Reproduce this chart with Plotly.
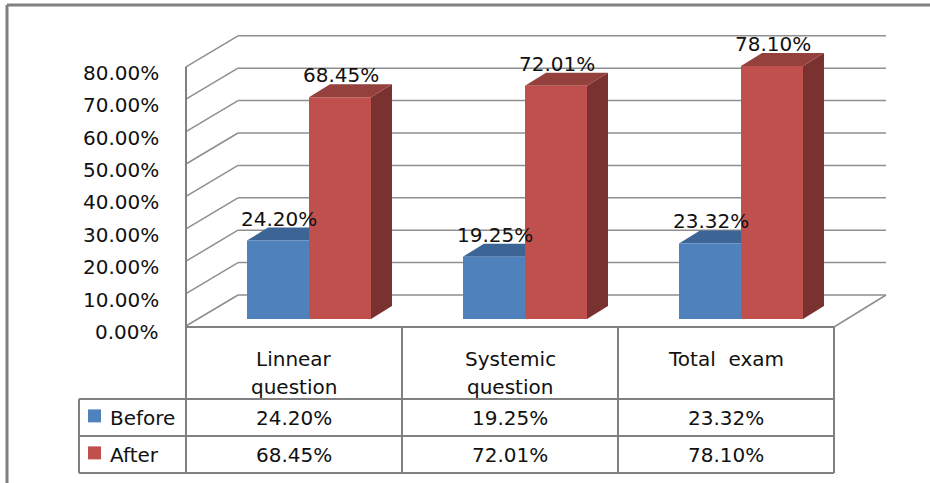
import plotly.graph_objects as go

# ---- data ----
categories = ["Linnear<br>question", "Systemic<br>question", "Total\u00a0 exam"]
series_names = ["Before", "After"]
before = [24.20, 19.25, 23.32]
after = [68.45, 72.01, 78.10]
y_ticks = [0, 10, 20, 30, 40, 50, 60, 70, 80]

# ---- styling ----
W, H = 930, 483
FONT = "DejaVu Sans"
FS = 20
TXT = "#111111"
BLUE, BLUE_TOP, BLUE_SIDE = "#4F81BD", "#3C6494", "#34577F"
RED, RED_TOP, RED_SIDE = "#C0504D", "#94403D", "#7A3230"
GRID = "#8f8f8f"
FRAME = "#808080"

# one category step and one percent on the screen (oblique 3-D look)
UNIT_X = 216.0
UNIT_Y = 3.24
X0_PX = 186 + 0.5 * UNIT_X   # screen x of category 0
Y0_PX = 319                  # screen y of value 0 on the bar plane


def X(px):
    return (px - X0_PX) / UNIT_X


def Y(py):
    return (Y0_PX - py) / UNIT_Y


# wall / floor geometry (depth offsets in axis units)
WALL_FRONT_X = -0.5
WALL_BACK_X = WALL_FRONT_X + 52 / UNIT_X
WALL_RIGHT_X = 2.5 + 52 / UNIT_X
FRONT_DY = -7 / UNIT_Y
BACK_DY = 24 / UNIT_Y

BAR_SHIFT = 15 / UNIT_X
BAR_W = 62 / UNIT_X
DEPTH_DX = 21 / UNIT_X
DEPTH_DY = 13 / UNIT_Y

fig = go.Figure()
shapes = []
annotations = []


def text(x, y, s, xanchor="center", yshift=0):
    annotations.append(dict(x=x, y=y, xref="x", yref="y", text=s, showarrow=False,
                            xanchor=xanchor, yanchor="middle", yshift=yshift,
                            font=dict(family=FONT, size=FS, color=TXT)))


def line(x0, y0, x1, y1, color=GRID, width=1.5):
    shapes.append(dict(type="line", xref="x", yref="y", x0=x0, y0=y0, x1=x1, y1=y1,
                       line=dict(color=color, width=width), layer="below"))


def poly(pts, color):
    path = "M " + " L ".join(f"{a},{b}" for a, b in pts) + " Z"
    shapes.append(dict(type="path", xref="x", yref="y", path=path,
                       fillcolor=color, line=dict(width=0), layer="below"))


# gridlines: diagonal on the left wall and horizontal on the back wall
for v in y_ticks:
    line(WALL_FRONT_X, v + FRONT_DY, WALL_BACK_X, v + BACK_DY)
    line(WALL_BACK_X, v + BACK_DY, WALL_RIGHT_X, v + BACK_DY)
    text(X(161), v, f"{v:.2f}%", xanchor="right", yshift=-13)

# floor right edge
line(2.5, Y(327), WALL_RIGHT_X, BACK_DY)

# 3-D faces of the bars (top and right side), front faces are bar traces
for i in range(len(categories)):
    for vals, off, top, side in ((before, BAR_SHIFT - BAR_W, BLUE_TOP, BLUE_SIDE),
                                 (after, BAR_SHIFT, RED_TOP, RED_SIDE)):
        v = vals[i]
        x0 = i + off
        x1 = x0 + BAR_W
        poly([(x1, 0), (x1, v), (x1 + DEPTH_DX, v + DEPTH_DY), (x1 + DEPTH_DX, DEPTH_DY)], side)
        poly([(x0, v), (x1, v), (x1 + DEPTH_DX, v + DEPTH_DY), (x0 + DEPTH_DX, v + DEPTH_DY)], top)
        text(x0 + BAR_W / 2 + 1 / UNIT_X, v, f"{v:.2f}%", yshift=22)

xs = list(range(len(categories)))
fig.add_trace(go.Bar(x=xs, y=before, width=BAR_W, offset=BAR_SHIFT - BAR_W, name=series_names[0],
                     marker=dict(color=BLUE, line=dict(width=0)), showlegend=False))
fig.add_trace(go.Bar(x=xs, y=after, width=BAR_W, offset=BAR_SHIFT, name=series_names[1],
                     marker=dict(color=RED, line=dict(width=0)), showlegend=False))

# ---- data table under the plot ----
T_TOP, T_HEAD, T_ROW1, T_BOT = Y(327), Y(399), Y(436), Y(473)
LEG_LEFT = X(79)
col_edges = [i - 0.5 for i in range(len(categories) + 1)]

line(WALL_FRONT_X, 80 + FRONT_DY, WALL_FRONT_X, T_BOT, FRAME, 2)
for xe in col_edges[1:]:
    line(xe, T_TOP, xe, T_BOT, FRAME, 2)
line(LEG_LEFT, T_HEAD, LEG_LEFT, T_BOT, FRAME, 2)
line(col_edges[0], T_TOP, col_edges[-1], T_TOP, FRAME, 2)
for yy in (T_HEAD, T_ROW1, T_BOT):
    line(LEG_LEFT, yy, col_edges[-1], yy, FRAME, 2)

for i, c in enumerate(categories):
    for k, part in enumerate(c.split("<br>")):
        text(i, Y(359 + 28 * k), part)
    text(i, (T_HEAD + T_ROW1) / 2, f"{before[i]:.2f}%")
    text(i, (T_ROW1 + T_BOT) / 2, f"{after[i]:.2f}%")

for name, color, (ya, yb) in ((series_names[0], BLUE, (T_HEAD, T_ROW1)),
                              (series_names[1], RED, (T_ROW1, T_BOT))):
    yc = (ya + yb) / 2
    half = 6.5 / UNIT_Y
    shapes.append(dict(type="rect", xref="x", yref="y", x0=X(88), x1=X(101), y0=yc - half + 0.5,
                       y1=yc + half + 0.5, fillcolor=color, line=dict(width=0), layer="below"))
    text(X(108), yc, name, xanchor="left")

# outer chart frame (top and left edges)
line(X(7), Y(5), X(940), Y(5), FRAME, 3)
line(X(7), Y(5), X(7), Y(490), FRAME, 3)

fig.update_layout(
    width=W, height=H,
    margin=dict(l=0, r=0, t=0, b=0),
    paper_bgcolor="white", plot_bgcolor="white",
    barmode="overlay",
    xaxis=dict(range=[X(0), X(W)], visible=False, fixedrange=True),
    yaxis=dict(range=[Y(H), Y(0)], visible=False, fixedrange=True),
    shapes=shapes,
    annotations=annotations,
    showlegend=False,
)

fig.write_html("out.html")
